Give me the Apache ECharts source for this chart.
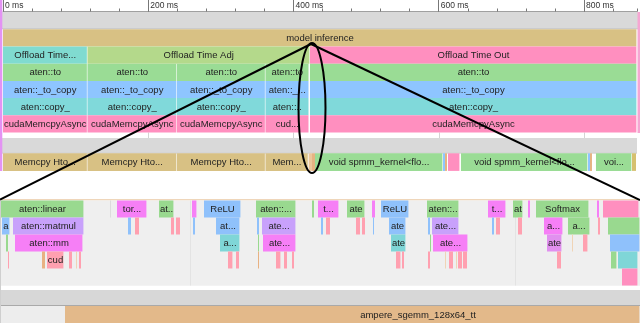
<!DOCTYPE html>
<html><head><meta charset="utf-8">
<script src="https://cdn.jsdelivr.net/npm/echarts@6/dist/echarts.min.js"></script>
<style>html,body{margin:0;padding:0;background:#fff}#c{width:640px;height:323px}</style>
</head><body><div id="c"></div>
<script>
// ---------- top timeline (ms) ----------
const topRange = [0, 873];
const topTickValues = [0, 200, 400, 600, 800];
const topTickUnit = 'ms';
const topMinorStep = 40;

// [start ms, end ms, level, label, kind]
const topCpuEvents = [
  [0, 873, 0, 'model inference', 'tan'],
  [0, 116.3, 1, 'Offload Time...', 'teal'],
  [116.3, 422.7, 1, 'Offload Time Adj', 'lime'],
  [422.7, 873, 1, 'Offload Time Out', 'pink'],
  [0, 116.3, 2, 'aten::to', 'green'],
  [116.3, 239.6, 2, 'aten::to', 'green'],
  [239.6, 361.4, 2, 'aten::to', 'green'],
  [361.4, 421.5, 2, 'aten::to', 'green'],
  [422.7, 873, 2, 'aten::to', 'green'],
  [0, 116.3, 3, 'aten::_to_copy', 'blue'],
  [116.3, 239.6, 3, 'aten::_to_copy', 'blue'],
  [239.6, 361.4, 3, 'aten::_to_copy', 'blue'],
  [361.4, 421.5, 3, 'aten::_...', 'blue'],
  [422.7, 873, 3, 'aten::_to_copy', 'blue'],
  [0, 116.3, 4, 'aten::copy_', 'cyan'],
  [116.3, 239.6, 4, 'aten::copy_', 'cyan'],
  [239.6, 361.4, 4, 'aten::copy_', 'cyan'],
  [361.4, 421.5, 4, 'aten::..', 'cyan'],
  [422.7, 873, 4, 'aten::copy_', 'cyan'],
  [0, 116.3, 5, 'cudaMemcpyAsync', 'pink'],
  [116.3, 239.6, 5, 'cudaMemcpyAsync', 'pink'],
  [239.6, 361.4, 5, 'cudaMemcpyAsync', 'pink'],
  [361.4, 421.5, 5, 'cud...', 'pink'],
  [422.7, 873, 5, 'cudaMemcpyAsync', 'pink']
];

const topGpuEvents = [
  [0, 116.3, 0, 'Memcpy Hto...', 'tan'],
  [116.3, 239.6, 0, 'Memcpy Hto...', 'tan'],
  [239.6, 361.4, 0, 'Memcpy Hto...', 'tan'],
  [361.4, 420.5, 0, 'Mem...', 'tan'],
  [420.8, 425.5, 0, '', 'lorange'],
  [425.5, 429.6, 0, '', 'orange'],
  [429.6, 605.9, 0, 'void spmm_kernel<flo...', 'green'],
  [605.9, 608.6, 0, '', 'blue'],
  [608.6, 611.4, 0, '', 'orange'],
  [612.7, 629.3, 0, '', 'pink'],
  [630.6, 805.5, 0, 'void spmm_kernel<flo...', 'green'],
  [805.5, 808.3, 0, '', 'blue'],
  [808.3, 811.0, 0, '', 'orange'],
  [816.5, 866.1, 0, 'voi...', 'green'],
  [866.1, 871.6, 0, '', 'khaki']
];

// ---------- zoomed timeline (µs) ----------
const zoomRange = [0, 16000];
const zoomGridlines = [4750, 12875];

const zoomCpuEvents = [
  [25, 2100, 0, 'aten::linear', 'zgreen'],
  [2750, 2775, 0, '', 'zgrey'],
  [2925, 3675, 0, 'tor...', 'zmag'],
  [3975, 4350, 0, 'at...', 'zgreen'],
  [4800, 4925, 0, '', 'zmag'],
  [5100, 6025, 0, 'ReLU', 'zblue'],
  [6400, 7400, 0, 'aten::...', 'zgreen'],
  [7800, 7850, 0, '', 'zgreen'],
  [7950, 8475, 0, 't...', 'zmag'],
  [8675, 9125, 0, 'ate', 'zgreen'],
  [9300, 9375, 0, '', 'zmag'],
  [9525, 10225, 0, 'ReLU', 'zblue'],
  [10675, 11475, 0, 'aten::...', 'zgreen'],
  [12200, 12650, 0, 't...', 'zmag'],
  [12825, 13075, 0, 'at', 'zgreen'],
  [13200, 13250, 0, '', 'zmag'],
  [13400, 14725, 0, 'Softmax', 'zgreen'],
  [14925, 14975, 0, '', 'zmag'],
  [15075, 15975, 0, '', 'pink'],

  [50, 250, 1, 'at', 'zblue'],
  [325, 2100, 1, 'aten::matmul', 'zpurple'],
  [3200, 3275, 1, '', 'zblue'],
  [3375, 3475, 1, '', 'zrose'],
  [4275, 4350, 1, '', 'zrose'],
  [4400, 4500, 1, '', 'zrose'],
  [4825, 4875, 1, '', 'zblue'],
  [5400, 6000, 1, 'at...', 'zblue'],
  [6425, 6475, 1, '', 'zblue'],
  [6550, 7400, 1, 'ate...', 'zpurple'],
  [8025, 8075, 1, '', 'zblue'],
  [8150, 8250, 1, '', 'zrose'],
  [8900, 9000, 1, '', 'zrose'],
  [9050, 9125, 1, '', 'zrose'],
  [9325, 9350, 1, '', 'zblue'],
  [9725, 10150, 1, 'ate', 'zblue'],
  [10700, 10750, 1, '', 'zblue'],
  [10800, 11475, 1, 'ate...', 'zpurple'],
  [12300, 12350, 1, '', 'zblue'],
  [12400, 12500, 1, '', 'zrose'],
  [12950, 13050, 1, '', 'zrose'],
  [13600, 14075, 1, 'a...', 'zmag'],
  [14200, 14750, 1, 'a...', 'zgreen'],
  [14950, 15000, 1, '', 'zrose'],
  [15200, 16000, 1, '', 'zgreen'],

  [150, 200, 2, '', 'zgreen'],
  [375, 2075, 2, 'aten::mm', 'zmag'],
  [5500, 6000, 2, 'a...', 'zcyan'],
  [6450, 6475, 2, '', 'zgreen'],
  [6575, 7400, 2, 'ate...', 'zmag'],
  [9775, 10150, 2, 'ate', 'zcyan'],
  [10750, 10775, 2, '', 'zgreen'],
  [10825, 11700, 2, 'ate...', 'zmag'],
  [13675, 14050, 2, 'ate', 'zmauve'],
  [14300, 14325, 2, '', 'ztan'],
  [14575, 14700, 2, '', 'zrose'],
  [15250, 16000, 2, '', 'zblue'],

  [200, 225, 3, '', 'zrose'],
  [1050, 1125, 3, '', 'zorange'],
  [1175, 1600, 3, 'cud', 'zrose'],
  [1725, 1800, 3, '', 'zrose'],
  [1900, 1925, 3, '', 'ztan'],
  [1975, 2025, 3, '', 'zrose'],
  [5700, 5825, 3, '', 'zrose'],
  [5900, 5975, 3, '', 'zrose'],
  [6450, 6475, 3, '', 'zorange'],
  [6900, 7025, 3, '', 'zrose'],
  [7100, 7175, 3, '', 'zrose'],
  [7300, 7350, 3, '', 'zrose'],
  [9900, 10025, 3, '', 'zrose'],
  [10050, 10100, 3, '', 'zrose'],
  [10700, 10750, 3, '', 'zrose'],
  [11125, 11150, 3, '', 'ztan'],
  [11225, 11325, 3, '', 'zrose'],
  [11400, 11425, 3, '', 'ztan'],
  [11450, 11550, 3, '', 'zrose'],
  [11575, 11675, 3, '', 'zrose'],
  [13925, 14025, 3, '', 'zrose'],
  [15275, 15425, 3, 'a', 'zgreen'],
  [15450, 15950, 3, '', 'zcyan'],

  [15550, 15950, 4, '', 'pink']
];

const zoomGpuEvents = [
  [1625, 19275, 0, 'ampere_sgemm_128x64_tt', 'amber']
];

// ---------- styles ----------
const PALETTE = {
  tan: '#d8c184', teal: '#80dbd0', lime: '#b4d98b', pink: '#ff8fbf', green: '#9adc95',
  blue: '#8ec5ff', cyan: '#80d9da', orange: '#e6b382', lorange: '#ecc79b', khaki: '#d6c070',
  zgreen: '#99d98f', zmag: '#f67ff6', zblue: '#8fc1fb', zpurple: '#c8a1fb', zcyan: '#7fd6d7',
  zrose: '#ffa0b0', zgrey: '#dcdcdc', ztan: '#f0d4b6', zorange: '#e8b182', zmauve: '#e190ef',
  amber: '#e3b98a'
};
const FONT = '9.5px "Liberation Sans", Arial, sans-serif';

function barRenderer(events) {
  return function (params, api) {
    const ev = events[params.dataIndex];
    const cs = params.coordSys;
    const a = api.coord([ev[0], ev[2]]);
    const b = api.coord([ev[1], ev[2] + 1]);
    const full = { x: a[0], y: a[1], width: b[0] - a[0], height: b[1] - a[1] };
    const r = echarts.graphic.clipRectByRect(full, { x: cs.x, y: cs.y, width: cs.width, height: cs.height });
    if (!r) return null;
    const w = r.width > 4 ? r.width - 0.6 : Math.max(r.width, 1);
    const children = [{
      type: 'rect',
      shape: { x: r.x, y: r.y, width: w, height: r.height },
      style: { fill: PALETTE[ev[4]] }
    }];
    if (ev[3]) {
      children.push({
        type: 'text',
        x: full.x + full.width / 2,
        y: r.y + r.height / 2 + 0.5,
        style: {
          text: ev[3], font: FONT, fill: '#222',
          align: 'center', verticalAlign: 'middle',
          width: Math.max(w, 4), overflow: 'truncate', ellipsis: ''
        }
      });
    }
    return { type: 'group', children: children };
  };
}

// vertical gridlines drawn between level `fromLevel` and the bottom of the grid
function gridlineRenderer(values, fromLevel, color) {
  return function (params, api) {
    const cs = params.coordSys;
    const p = api.coord([values[params.dataIndex], fromLevel]);
    const x = Math.round(p[0]) + 0.5;
    return {
      type: 'line',
      shape: { x1: x, y1: p[1], x2: x, y2: cs.y + cs.height },
      style: { stroke: color, lineWidth: 1 }
    };
  };
}

const toData = evs => evs.map(e => [e[0], e[1], e[2]]);

const chart = echarts.init(document.getElementById('c'), null, { renderer: 'canvas', width: 640, height: 323 });

const option = {
  animation: false,
  backgroundColor: '#ffffff',
  grid: [
    { left: 3, top: 29.3, width: 634, height: 108.7 },
    { left: 3, top: 153.3, width: 634, height: 17.6 },
    { left: 0, top: 200.5, width: 640, height: 85 },
    { left: 0, top: 306, width: 640, height: 17 }
  ],
  xAxis: [
    {
      gridIndex: 0, type: 'value', position: 'top', offset: 17.8,
      min: topRange[0], max: topRange[1], interval: 200,
      axisLine: { show: true, onZero: false, lineStyle: { color: '#a0a0a0', width: 1 } },
      axisTick: { show: true, inside: false, length: 12, lineStyle: { color: '#777' } },
      axisLabel: {
        show: true, align: 'left', margin: 1, padding: [0, 0, 0, 2],
        fontSize: 8.5, color: '#333', fontFamily: '"Liberation Sans", Arial, sans-serif',
        showMaxLabel: false,
        formatter: v => topTickValues.indexOf(v) >= 0 ? v + ' ' + topTickUnit : ''
      },
      splitLine: { show: false }
    },
    {
      gridIndex: 0, type: 'value', position: 'top', offset: 17.8,
      min: topRange[0], max: topRange[1], interval: topMinorStep,
      axisLine: { show: false, onZero: false },
      axisTick: { show: true, inside: false, length: 3, lineStyle: { color: '#777' } },
      axisLabel: { show: false }, splitLine: { show: false }
    },
    { gridIndex: 1, type: 'value', min: topRange[0], max: topRange[1], show: false },
    { gridIndex: 2, type: 'value', min: zoomRange[0], max: zoomRange[1], show: false },
    { gridIndex: 3, type: 'value', min: zoomRange[0], max: zoomRange[1], show: false }
  ],
  yAxis: [
    { gridIndex: 0, type: 'value', min: 0, max: 6.32, inverse: true, show: false },
    { gridIndex: 1, type: 'value', min: 0, max: 1, inverse: true, show: false },
    { gridIndex: 2, type: 'value', min: 0, max: 5, inverse: true, show: false },
    { gridIndex: 3, type: 'value', min: 0, max: 1, inverse: true, show: false }
  ],
  series: [
    { type: 'custom', name: 'topGrid', xAxisIndex: 0, yAxisIndex: 0, z: 1,
      data: topTickValues.slice(1).map(v => [v, 6]), encode: { x: 0, y: 1 },
      renderItem: gridlineRenderer(topTickValues.slice(1), 6, '#d4d4d4') },
    { type: 'custom', name: 'topCpu', xAxisIndex: 0, yAxisIndex: 0, z: 2,
      data: toData(topCpuEvents), encode: { x: [0, 1], y: 2 }, renderItem: barRenderer(topCpuEvents) },
    { type: 'custom', name: 'topGpu', xAxisIndex: 2, yAxisIndex: 1, z: 2,
      data: toData(topGpuEvents), encode: { x: [0, 1], y: 2 }, renderItem: barRenderer(topGpuEvents) },
    { type: 'custom', name: 'zoomGrid', xAxisIndex: 3, yAxisIndex: 2, z: 1,
      data: zoomGridlines.map(v => [v, 0]), encode: { x: 0, y: 1 },
      renderItem: gridlineRenderer(zoomGridlines, 0, '#e3e3e3') },
    { type: 'custom', name: 'zoomCpu', xAxisIndex: 3, yAxisIndex: 2, z: 2,
      data: toData(zoomCpuEvents), encode: { x: [0, 1], y: 2 }, renderItem: barRenderer(zoomCpuEvents) },
    { type: 'custom', name: 'zoomGpu', xAxisIndex: 4, yAxisIndex: 3, z: 2,
      data: toData(zoomGpuEvents), encode: { x: [0, 1], y: 2 }, renderItem: barRenderer(zoomGpuEvents) }
  ],
  graphic: [
    // track headers / backgrounds
    { type: 'rect', z: 0, silent: true, shape: { x: 0, y: 12, width: 640, height: 16.3 }, style: { fill: '#d9d9d9' } },
    { type: 'rect', z: 0, silent: true, shape: { x: 0, y: 28.2, width: 640, height: 1.1 }, style: { fill: '#bdbdbd' } },
    { type: 'rect', z: 0, silent: true, shape: { x: 0, y: 138, width: 637, height: 14.5 }, style: { fill: '#d9d9d9' } },
    { type: 'rect', z: 0, silent: true, shape: { x: 0, y: 152.4, width: 637, height: 1 }, style: { fill: '#bdbdbd' } },
    { type: 'rect', z: 5, silent: true, shape: { x: 0, y: 0, width: 2.3, height: 171 }, style: { fill: '#e393f3' } },
    { type: 'rect', z: 5, silent: true, shape: { x: 637.5, y: 12, width: 2.5, height: 121 }, style: { fill: '#f6a6d2' } },
    { type: 'rect', z: 0, silent: true, shape: { x: 0, y: 199, width: 640, height: 1.5 }, style: { fill: '#efd6ba' } },
    { type: 'rect', z: 0, silent: true, shape: { x: 0, y: 200.5, width: 640, height: 85.3 }, style: { fill: '#efefef' } },
    { type: 'rect', z: 0, silent: true, shape: { x: 0, y: 290, width: 640, height: 15 }, style: { fill: '#d7d7d7' } },
    { type: 'rect', z: 0, silent: true, shape: { x: 0, y: 305, width: 640, height: 1 }, style: { fill: '#a9a9a9' } },
    { type: 'rect', z: 0, silent: true, shape: { x: 0, y: 306, width: 640, height: 17 }, style: { fill: '#ededed' } },
    { type: 'rect', z: 5, silent: true, shape: { x: 0, y: 200, width: 1, height: 123 }, style: { fill: '#cfcfcf' } },
    // zoom annotation
    { type: 'ellipse', z: 100, silent: true, shape: { cx: 312, cy: 108, rx: 13.5, ry: 65 },
      style: { fill: null, stroke: '#000', lineWidth: 2 } },
    { type: 'line', z: 100, silent: true, shape: { x1: 311, y1: 44, x2: 0, y2: 199.5 },
      style: { stroke: '#000', lineWidth: 2 } },
    { type: 'line', z: 100, silent: true, shape: { x1: 311, y1: 44, x2: 640, y2: 200 },
      style: { stroke: '#000', lineWidth: 2 } }
  ]
};
chart.setOption(option);
</script>
</body></html>
